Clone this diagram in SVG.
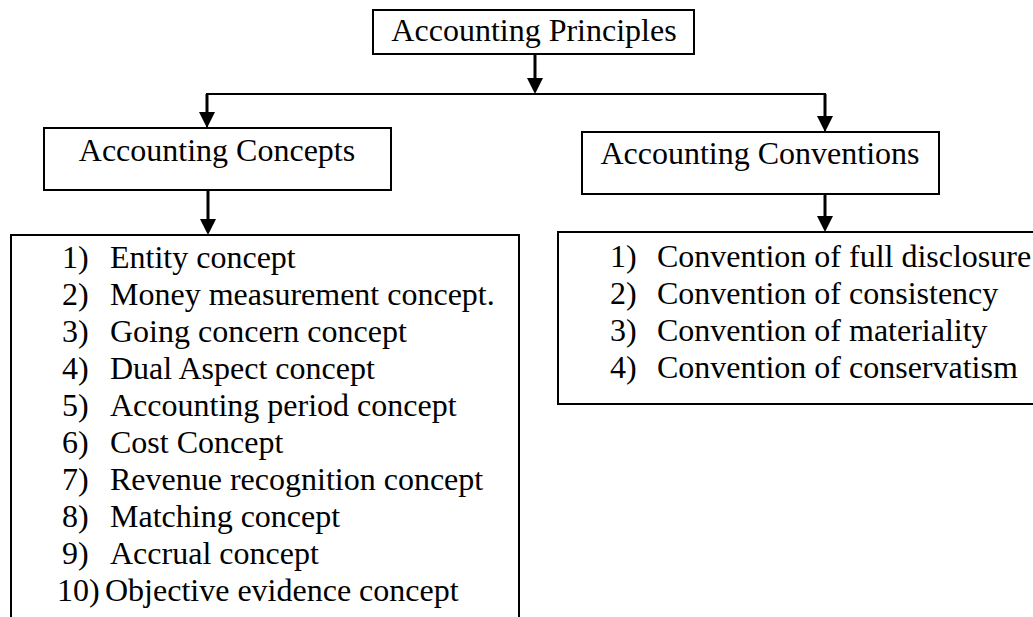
<svg xmlns="http://www.w3.org/2000/svg" width="1033" height="617" viewBox="0 0 1033 617">
<style>
  text { font-family: "Liberation Serif", "Times New Roman", serif; font-size: 32px; fill: #000; }
  .box { fill: #fff; stroke: #000; stroke-width: 2; }
  .open { fill: none; stroke: #000; stroke-width: 2; }
  .bus { fill: none; stroke: #000; stroke-width: 2; }
  .arrow { fill: none; stroke: #000; stroke-width: 3; marker-end: url(#head); }
  .c { text-anchor: middle; }
</style>
<defs>
  <marker id="head" markerUnits="userSpaceOnUse" markerWidth="16" markerHeight="16" viewBox="0 0 16 16" refX="8" refY="8" orient="auto">
    <path d="M0,0 L16,8 L0,16 Z" fill="#000"/>
  </marker>
</defs>
<rect width="1033" height="617" fill="#fff"/>

<g id="connectors">
  <path class="bus" d="M207,128 V94 H825 V132"/>
  <line class="arrow" x1="535" y1="54" x2="535" y2="86"/>
  <line class="arrow" x1="207" y1="94" x2="207" y2="120"/>
  <line class="arrow" x1="825" y1="94" x2="825" y2="124"/>
  <line class="arrow" x1="208" y1="190" x2="208" y2="227"/>
  <line class="arrow" x1="825" y1="194" x2="825" y2="224"/>
</g>

<g id="principles">
  <rect class="box" x="373" y="10" width="321" height="44"/>
  <text class="c" x="534" y="41">Accounting Principles</text>
</g>

<g id="concepts">
  <rect class="box" x="44" y="128" width="347" height="62"/>
  <text class="c" x="217" y="161">Accounting Concepts</text>
</g>

<g id="conventions">
  <rect class="box" x="582" y="132" width="357" height="62"/>
  <text class="c" x="760" y="164">Accounting Conventions</text>
</g>

<g id="concepts-list">
  <path class="open" d="M11,620 V235 H519 V620"/>
  <text x="62" y="268">1)</text><text x="110" y="268">Entity concept</text>
  <text x="62" y="305">2)</text><text x="110" y="305">Money measurement concept.</text>
  <text x="62" y="342">3)</text><text x="110" y="342">Going concern concept</text>
  <text x="62" y="379">4)</text><text x="110" y="379">Dual Aspect concept</text>
  <text x="62" y="416">5)</text><text x="110" y="416">Accounting period concept</text>
  <text x="62" y="453">6)</text><text x="110" y="453">Cost Concept</text>
  <text x="62" y="490">7)</text><text x="110" y="490">Revenue recognition concept</text>
  <text x="62" y="527">8)</text><text x="110" y="527">Matching concept</text>
  <text x="62" y="564">9)</text><text x="110" y="564">Accrual concept</text>
  <text x="57" y="601">10)</text><text x="105" y="601">Objective evidence concept</text>
</g>

<g id="conventions-list">
  <rect class="box" x="558" y="232" width="500" height="172"/>
  <text x="610" y="267">1)</text><text x="657" y="267">Convention of full disclosure</text>
  <text x="610" y="304">2)</text><text x="657" y="304">Convention of consistency</text>
  <text x="610" y="341">3)</text><text x="657" y="341">Convention of materiality</text>
  <text x="610" y="378">4)</text><text x="657" y="378">Convention of conservatism</text>
</g>
</svg>
